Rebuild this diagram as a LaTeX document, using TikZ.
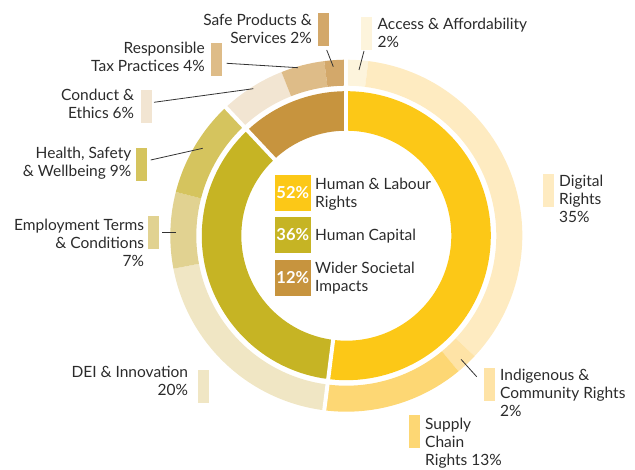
\documentclass[tikz,border=0pt]{standalone}
\usepackage{fontspec}
\setmainfont{Lato}
\usetikzlibrary{calc}
\definecolor{txt}{HTML}{2B2B2B}
\definecolor{ldr}{HTML}{333333}
\definecolor{cyel}{HTML}{FCC817}
\definecolor{coli}{HTML}{C6B424}
\definecolor{cbrn}{HTML}{C7943E}
\definecolor{cacc}{HTML}{FDF4DC}
\definecolor{cdig}{HTML}{FEEBC1}
\definecolor{cind}{HTML}{FEE3A6}
\definecolor{csup}{HTML}{FDD774}
\definecolor{cdei}{HTML}{F0E6C4}
\definecolor{cemp}{HTML}{E1D291}
\definecolor{chea}{HTML}{D5C45E}
\definecolor{ccon}{HTML}{F2E5D2}
\definecolor{ctax}{HTML}{DEBC88}
\definecolor{csaf}{HTML}{D3A86A}
\newcommand{\labL}[1]{\begin{tabular}[t]{@{}l@{}}#1\end{tabular}}
\newcommand{\labR}[1]{\begin{tabular}[t]{@{}r@{}}#1\end{tabular}}
\newcommand{\ringseg}[5]{%
  \fill[#5] ($(C)+({90-#1}:#4)$) arc[start angle={90-#1}, end angle={90-#2}, radius=#4]
    -- ($(C)+({90-#2}:#3)$) arc[start angle={90-#2}, end angle={90-#1}, radius=#3] -- cycle;}
\begin{document}
\begin{tikzpicture}[x=1pt,y=1pt,
  lbl/.style={inner sep=0pt, text=txt, font=\fontsize{15.5}{18}\selectfont},
  swatch/.style={minimum width=11pt, minimum height=33pt, inner sep=0pt, draw=none},
  leader/.style={draw=ldr, line width=0.8pt},
  legsq/.style={minimum size=35.7pt, inner sep=0pt, text=white, font=\fontsize{16.5}{18}\selectfont\bfseries},
  sep/.style={draw=white, line width=4pt}]
\useasboundingbox (0,0) rectangle (635,469);
\coordinate (C) at (346.3,233.3);
% inner ring
\ringseg{0}{187.2}{105}{144.5}{cyel}
\ringseg{187.2}{316.8}{105}{144.5}{coli}
\ringseg{316.8}{360}{105}{144.5}{cbrn}
% outer ring
\ringseg{0}{7.2}{150}{176}{cacc}
\ringseg{7.2}{133.2}{150}{176}{cdig}
\ringseg{133.2}{140.4}{150}{176}{cind}
\ringseg{140.4}{187.2}{150}{176}{csup}
\ringseg{187.2}{259.2}{150}{176}{cdei}
\ringseg{259.2}{284.4}{150}{176}{cemp}
\ringseg{284.4}{316.8}{150}{176}{chea}
\ringseg{316.8}{338.4}{150}{176}{ccon}
\ringseg{338.4}{352.8}{150}{176}{ctax}
\ringseg{352.8}{360}{150}{176}{csaf}
% separators
\foreach \c in {0,187.2,316.8}
  \draw[sep] ($(C)+({90-\c}:100)$) -- ($(C)+({90-\c}:180)$);
% legend
\node[legsq, fill=cyel] (lg1) at (292.8,469-192.8) {52\%};
\node[legsq, fill=coli] (lg2) at (292.8,469-235) {36\%};
\node[legsq, fill=cbrn] (lg3) at (292.8,469-277.7) {12\%};
\node[lbl, anchor=base west] (lt1) at (315,469-190) {\labL{Human \& Labour\\Rights}};
\node[lbl, anchor=base west] (lt2) at (315,469-241) {\labL{Human Capital}};
\node[lbl, anchor=base west] (lt3) at (315,469-274) {\labL{Wider Societal\\Impacts}};
% swatches
\node[swatch, fill=csaf] (sw-saf) at (323.3,469-29.2) {};
\node[swatch, fill=cacc] (sw-acc) at (366.5,469-33.5) {};
\node[swatch, fill=ctax] (sw-tax) at (216.5,469-59.5) {};
\node[swatch, fill=ccon] (sw-con) at (146.5,469-106.5) {};
\node[swatch, fill=chea] (sw-hea) at (141.5,469-164.5) {};
\node[swatch, fill=cemp] (sw-emp) at (153.5,469-233) {};
\node[swatch, fill=cdei] (sw-dei) at (203,469-386.5) {};
\node[swatch, fill=cind] (sw-ind) at (489.5,469-384.5) {};
\node[swatch, fill=csup] (sw-sup) at (414.5,469-431.5) {};
\node[swatch, fill=cdig] (sw-dig) at (548.5,469-190.5) {};
% labels
\node[lbl, anchor=base east] (t-saf) at (312,469-26) {\labR{Safe Products \&\\Services 2\%}};
\node[lbl, anchor=base west] (t-acc) at (377.5,469-29.3) {\labL{Access \& Affordability\\2\%}};
\node[lbl, anchor=base east] (t-tax) at (205,469-53.3) {\labR{Responsible\\Tax Practices 4\%}};
\node[lbl, anchor=base east] (t-con) at (134.3,469-100.7) {\labR{Conduct \&\\Ethics 6\%}};
\node[lbl, anchor=base east] (t-hea) at (131.5,469-158.7) {\labR{Health, Safety\\\& Wellbeing 9\%}};
\node[lbl, anchor=base east] (t-emp) at (144.3,469-230.7) {\labR{Employment Terms\\\& Conditions\hspace{6pt}\\7\%}};
\node[lbl, anchor=base east] (t-dei) at (188.3,469-377.7) {\labR{DEI \& Innovation\\20\%\hspace{-5pt}}};
\node[lbl, anchor=base west] (t-ind) at (500,469-380.7) {\labL{Indigenous \&\\Community Rights\\2\%}};
\node[lbl, anchor=base west] (t-sup) at (425,469-429.3) {\labL{Supply\\Chain\\Rights 13\%}};
\node[lbl, anchor=base west] (t-dig) at (559,469-186.7) {\labL{Digital\\Rights\\35\%}};
% leaders
\coordinate (a-saf) at (326.7,469-50);   \coordinate (b-saf) at (333.3,469-66.7);
\coordinate (a-acc) at (364,469-51);     \coordinate (b-acc) at (359,469-70);
\coordinate (a-tax) at (226.7,469-63.3); \coordinate (b-tax) at (298,469-67.7);
\coordinate (a-con) at (154,469-102.3);  \coordinate (b-con) at (253.3,469-88.7);
\coordinate (a-hea) at (150.7,469-160);  \coordinate (b-hea) at (202.7,469-148.3);
\coordinate (a-emp) at (162.3,469-232.7);\coordinate (b-emp) at (176,469-232.7);
\coordinate (a-ind) at (461,469-359.3);  \coordinate (b-ind) at (476.7,469-376.7);
\foreach \n in {saf,acc,tax,con,hea,emp,ind}
  \draw[leader] (a-\n) -- (b-\n);
\end{tikzpicture}
\end{document}
